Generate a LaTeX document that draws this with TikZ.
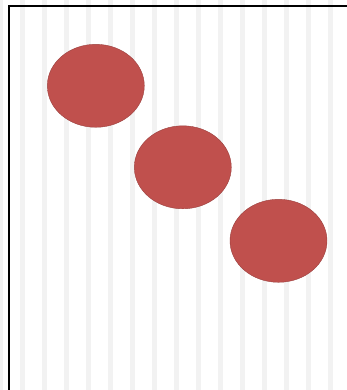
\documentclass[tikz,border=0pt]{standalone}
\usetikzlibrary{shapes.geometric}
\definecolor{blobred}{HTML}{C0504D}
\definecolor{stripegray}{HTML}{F2F2F2}

\begin{document}
\begin{tikzpicture}[x=1pt,y=-1pt,
  blob/.style={ellipse,fill=blobred,draw=blobred!80!black,line width=0.4pt,
    minimum width=97pt,minimum height=83pt,inner sep=0pt}]
\useasboundingbox (0,0) rectangle (346,390);
% Stripes
\foreach \k in {0,...,15}
  \fill[stripegray] ({-2+22*\k},0) rectangle ++(5,390);
% Frame
\draw[line width=1.8pt] (8.8,392) -- (8.8,5.8) -- (348,5.8);
% Circles
\node[blob] (c1) at (95.8,85.8) {};
\node[blob] (c2) at (182.8,167.3) {};
\node[blob] (c3) at (278.5,240.8) {};
\end{tikzpicture}
\end{document}
